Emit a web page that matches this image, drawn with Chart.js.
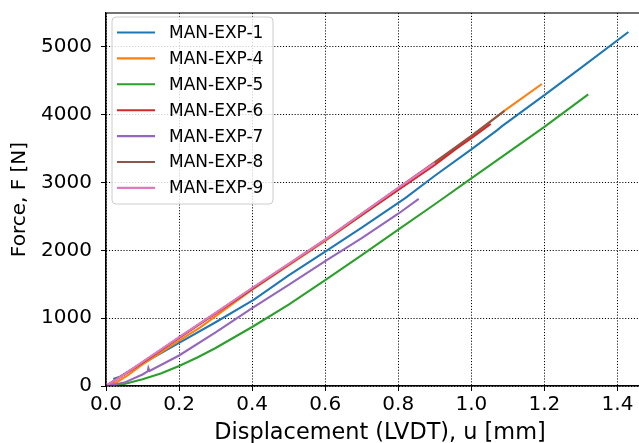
<!DOCTYPE html>
<html>
<head>
<meta charset="utf-8">
<script src="https://cdn.jsdelivr.net/npm/chart.js@4"></script>
<style>
  html, body { margin: 0; padding: 0; background: #fff; overflow: hidden; }
  canvas { display: block; }
</style>
</head>
<body>
<!-- het plotvlak loopt rechts iets buiten het venster, net als in het origineel -->
<canvas id="forceChart" width="656" height="443"></canvas>
<script>
// Meetreeksen (verplaatsing in mm, kracht in N)
const seriesNames = ["MAN-EXP-1", "MAN-EXP-4", "MAN-EXP-5", "MAN-EXP-6", "MAN-EXP-7", "MAN-EXP-8", "MAN-EXP-9"];
const seriesColors = ["#1f77b4", "#ff7f0e", "#2ca02c", "#d62728", "#9467bd", "#8c564b", "#e377c2"];

const exp1X = [0.02, 0.04, 0.1, 0.2, 0.3, 0.39, 0.405, 0.5, 0.6, 0.7, 0.8, 0.82, 0.9, 1.0, 1.07, 1.085, 1.2, 1.3, 1.43];
const exp1Y = [105, 140, 330, 635, 940, 1225, 1275, 1630, 1980, 2335, 2700, 2775, 3100, 3490, 3770, 3835, 4290, 4690, 5220];

const exp4X = [0, 0.03, 0.06, 0.1, 0.2, 0.257, 0.4, 0.6, 0.8, 0.9, 1.0, 1.09, 1.193];
const exp4Y = [0, 60, 160, 320, 670, 860, 1420, 2140, 2900, 3280, 3680, 4058, 4453];

const exp5X = [0, 0.05, 0.1, 0.15, 0.2, 0.25, 0.3, 0.4, 0.5, 0.6, 0.7, 0.8, 0.9, 1.0, 1.1, 1.2, 1.32];
const exp5Y = [0, 30, 100, 185, 295, 420, 560, 870, 1200, 1560, 1930, 2305, 2680, 3060, 3440, 3820, 4300];

const exp6X = [0, 0.1, 0.2, 0.4, 0.6, 0.8, 0.9, 0.959, 1.0, 1.053];
const exp6Y = [0, 345, 710, 1430, 2150, 2890, 3260, 3500, 3655, 3865];

const exp7X = [0, 0.05, 0.1, 0.114, 0.116, 0.119, 0.2, 0.3, 0.4, 0.5, 0.6, 0.7, 0.8, 0.856];
const exp7Y = [0, 50, 170, 215, 265, 222, 450, 790, 1150, 1490, 1840, 2180, 2540, 2760];

const exp8X = [0, 0.1, 0.2, 0.4, 0.6, 0.8, 0.9, 1.0, 1.091];
const exp8Y = [0, 350, 715, 1440, 2160, 2920, 3300, 3690, 4058];

const exp9X = [0, 0.05, 0.1, 0.2, 0.3, 0.4, 0.5, 0.6, 0.7, 0.8, 0.9];
const exp9Y = [0, 170, 355, 720, 1080, 1445, 1800, 2160, 2540, 2920, 3290];

const xTickValues = [0, 0.2, 0.4, 0.6, 0.8, 1.0, 1.2, 1.4];
const yTickValues = [0, 1000, 2000, 3000, 4000, 5000];

const allX = [exp1X, exp4X, exp5X, exp6X, exp7X, exp8X, exp9X];
const allY = [exp1Y, exp4Y, exp5Y, exp6Y, exp7Y, exp8Y, exp9Y];

const FONT = "'DejaVu Sans', 'Liberation Sans', sans-serif";

function toPoints(xs, ys) {
  return xs.map((x, i) => ({ x: x, y: ys[i] }));
}

const datasets = seriesNames.map((name, i) => ({
  label: name,
  data: toPoints(allX[i], allY[i]),
  borderColor: seriesColors[i],
  backgroundColor: seriesColors[i],
  borderWidth: 2.1,
  pointRadius: 0,
  tension: 0,
  fill: false,
  order: seriesNames.length - i, // laatste reeks bovenop, zoals matplotlib
}));

// legenda binnen het plotvlak, linksboven
const innerLegend = {
  id: "innerLegend",
  afterDraw(chart) {
    const ctx = chart.ctx;
    const area = chart.chartArea;
    const x = area.left + 6;
    const y = area.top + 4;
    const w = 161;
    const h = 187;
    ctx.save();
    ctx.beginPath();
    ctx.roundRect(x, y, w, h, 4);
    ctx.fillStyle = "rgba(255,255,255,0.8)";
    ctx.fill();
    ctx.strokeStyle = "#cccccc";
    ctx.lineWidth = 1;
    ctx.stroke();
    ctx.font = "17px " + FONT;
    ctx.textBaseline = "middle";
    chart.data.datasets.forEach((ds, i) => {
      const rowY = y + 15.5 + i * 25.9;
      ctx.beginPath();
      ctx.moveTo(x + 5, rowY);
      ctx.lineTo(x + 43, rowY);
      ctx.strokeStyle = ds.borderColor;
      ctx.lineWidth = 2.1;
      ctx.stroke();
      ctx.fillStyle = "#000";
      ctx.fillText(ds.label, x + 57, rowY + 1);
    });
    ctx.restore();
  },
};

// kader rond het plotvlak
const frameBox = {
  id: "frameBox",
  afterDatasetsDraw(chart) {
    const ctx = chart.ctx;
    const a = chart.chartArea;
    ctx.save();
    ctx.strokeStyle = "#000";
    ctx.lineWidth = 1.1;
    ctx.strokeRect(a.left, a.top, a.right - a.left, a.bottom - a.top);
    ctx.restore();
  },
};

new Chart(document.getElementById("forceChart"), {
  type: "line",
  data: { datasets: datasets },
  plugins: [frameBox, innerLegend],
  options: {
    responsive: false,
    animation: false,
    devicePixelRatio: 1,
    layout: { padding: { left: 0, right: 2, top: 13, bottom: 0 } },
    scales: {
      x: {
        type: "linear",
        min: 0,
        max: 1.5,
        afterBuildTicks: (scale) => {
          scale.ticks = xTickValues.map((v) => ({ value: v }));
        },
        afterFit: (scale) => {
          scale.height = 57;
          scale.paddingLeft = 0;
          scale.paddingRight = 0;
        },
        grid: {
          color: "#000",
          lineWidth: 1,
          tickLength: 5,
          tickColor: "#000",
        },
        border: { display: true, color: "#000", width: 1.1, dash: [1.1, 1.8] },
        ticks: {
          color: "#000",
          padding: 2,
          maxRotation: 0,
          autoSkip: false,
          font: { family: FONT, size: 20 },
          callback: (v) => Number(v).toFixed(1),
        },
        title: {
          display: true,
          text: "Displacement (LVDT), u [mm]",
          color: "#000",
          padding: { top: 0, bottom: -4 },
          font: { family: FONT, size: 22.4 },
        },
      },
      y: {
        type: "linear",
        min: 0,
        max: 5500,
        afterBuildTicks: (scale) => {
          scale.ticks = yTickValues.map((v) => ({ value: v }));
        },
        afterFit: (scale) => {
          scale.width = 106;
          scale.paddingTop = 0;
          scale.paddingBottom = 0;
        },
        grid: {
          color: "#000",
          lineWidth: 1,
          tickLength: 5,
          tickColor: "#000",
        },
        border: { display: true, color: "#000", width: 1.1, dash: [1.1, 1.8] },
        ticks: {
          color: "#000",
          padding: 9,
          autoSkip: false,
          font: { family: FONT, size: 20 },
          callback: (v) => String(v),
        },
        title: {
          display: true,
          text: "Force, F [N]",
          color: "#000",
          padding: { top: 8, bottom: 0 },
          font: { family: FONT, size: 20 },
        },
      },
    },
    plugins: {
      legend: { display: false },
      tooltip: { enabled: false },
    },
  },
});
</script>
</body>
</html>
